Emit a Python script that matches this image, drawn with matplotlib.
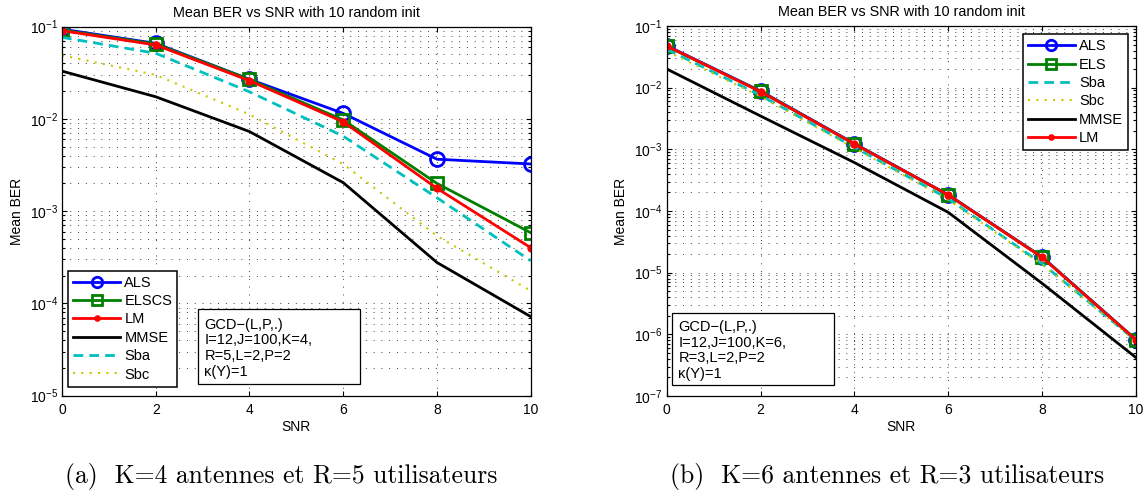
"""Mean BER vs SNR for the two antenna/user configurations (GCD-(L,P,.))."""
import matplotlib
matplotlib.use('Agg')
import matplotlib.pyplot as plt
from matplotlib.patches import Rectangle
from matplotlib.ticker import LogLocator, NullFormatter, LogFormatterMathtext
import numpy as np

plt.rcParams['font.family'] = ['Liberation Sans', 'DejaVu Sans']
plt.rcParams['font.size'] = 10

# ── Data ──
snr = [0, 2, 4, 6, 8, 10]

# (a) K=4, R=5
als_a = [0.094, 0.066, 0.0269, 0.0115, 0.00366, 0.00325]
elscs_a = [0.092, 0.0650, 0.0268, 0.00975, 0.0020, 0.000585]
lm_a = [0.0905, 0.0634, 0.0260, 0.0093, 0.00177, 0.000402]
mmse_a = [0.033, 0.0174, 0.0073, 0.00204, 0.000278, 7.2e-5]
sba_a = [0.0767, 0.0515, 0.0197, 0.0065, 0.0014, 0.00029]
sbc_a = [0.049, 0.030, 0.0112, 0.00324, 0.00054, 0.000137]

# (b) K=6, R=3
als_b = [0.048, 0.0088, 0.00124, 0.000183, 1.8e-5, 8.2e-7]
els_b = [0.047, 0.0087, 0.00122, 0.000181, 1.78e-5, 8.1e-7]
sba_b = [0.042, 0.0075, 0.00108, 0.000158, 1.4e-5, 7.9e-7]
sbc_b = [0.039, 0.0072, 0.00104, 0.000152, 1.35e-5, 7.8e-7]
mmse_b = [0.0201, 0.00347, 0.00061, 9.5e-5, 6.7e-6, 4.2e-7]
lm_b = [0.0474, 0.0086, 0.00122, 0.000182, 1.77e-5, 8.1e-7]

# ── Styles ──
BLUE = '#0000FF'
GREEN = '#008000'
RED = '#FF0000'
CYAN = '#00BFBF'
YELLOW = '#C8C800'
GRID = '0.25'

STYLE = {
    'ALS': dict(color=BLUE, marker='o', ms=10, mfc='none', mew=2, lw=2),
    'ELS': dict(color=GREEN, marker='s', ms=9, mfc='none', mew=2, lw=2),
    'LM': dict(color=RED, marker='o', ms=5, lw=2),
    'MMSE': dict(color='k', lw=2),
    'Sba': dict(color=CYAN, ls=(0, (3.5, 2.2)), lw=2),
    'Sbc': dict(color=YELLOW, ls=(0, (1, 3)), lw=1.5),
}


def panel(ax, series, ymin, box_text, box, legend_loc, legend_anchor):
    """One BER panel: curves, MATLAB-like grid, legend and parameter box."""
    for label, kind, values in series:
        ax.plot(snr, values, label=label, **STYLE[kind])

    ax.set_yscale('log')
    ax.set_xlim(0, 10)
    ax.set_ylim(ymin, 1e-1)
    ax.set_xticks(np.arange(0, 11, 2))
    ax.yaxis.set_major_locator(LogLocator(base=10, numticks=20))
    ax.yaxis.set_major_formatter(LogFormatterMathtext())
    ax.yaxis.set_minor_locator(LogLocator(base=10, subs=np.arange(2, 10), numticks=20))
    ax.yaxis.set_minor_formatter(NullFormatter())
    ax.tick_params(which='both', direction='in', top=True, right=True, width=0.8)
    ax.tick_params(which='major', length=3.5)
    ax.tick_params(which='minor', length=2)
    ax.tick_params(axis='x', pad=5)
    ax.tick_params(axis='y', pad=3)
    for s in ax.spines.values():
        s.set_linewidth(0.9)

    dots = (0, (1, 7))
    ax.grid(True, which='major', axis='both', color=GRID, ls=dots, lw=0.7)
    ax.grid(True, which='minor', axis='y', color=GRID, ls=dots, lw=0.7)
    ax.set_axisbelow(True)

    ax.set_title('Mean BER vs SNR with 10 random init', fontsize=10.4, pad=7)
    ax.set_xlabel('SNR')
    ax.set_ylabel('Mean BER')
    ax.xaxis.set_label_coords(0.5, -0.065)
    ax.yaxis.set_label_coords(-0.082, 0.5)

    leg = ax.legend(loc=legend_loc, bbox_to_anchor=legend_anchor, borderaxespad=0,
                    fancybox=False, framealpha=1, edgecolor='k', handlelength=3.2,
                    labelspacing=0.3, markerscale=0.75, fontsize=10.5,
                    borderpad=0.35, handletextpad=0.3)
    leg.get_frame().set_linewidth(1.1)
    leg.set_zorder(5)

    x0, y0, x1, y1 = box
    ax.add_patch(Rectangle((x0, y0), x1 - x0, y1 - y0, transform=ax.transAxes,
                           facecolor='white', edgecolor='k', lw=0.9, zorder=5))
    ax.text(x0 + 0.014, (y0 + y1) / 2 - 0.004, box_text, transform=ax.transAxes,
            ha='left', va='center', fontsize=10.5, linespacing=1.15, zorder=6)


fig = plt.figure(figsize=(11.45, 4.96), dpi=100, facecolor='white')
ax_a = fig.add_axes([62 / 1145, 1 - 395.7 / 496, 468.7 / 1145, 369 / 496])
ax_b = fig.add_axes([666.7 / 1145, 1 - 396 / 496, 469.3 / 1145, 370 / 496])

panel(ax_a,
      [('ALS', 'ALS', als_a), ('ELSCS', 'ELS', elscs_a), ('LM', 'LM', lm_a),
       ('MMSE', 'MMSE', mmse_a), ('Sba', 'Sba', sba_a), ('Sbc', 'Sbc', sbc_a)],
      1e-5, 'GCD\u2212(L,P,.)\nI=12,J=100,K=4,\nR=5,L=2,P=2\n\u03ba(Y)=1',
      (0.2895, 0.0317, 0.636, 0.234), 'lower left', (0.0134, 0.0244))

panel(ax_b,
      [('ALS', 'ALS', als_b), ('ELS', 'ELS', els_b), ('Sba', 'Sba', sba_b),
       ('Sbc', 'Sbc', sbc_b), ('MMSE', 'MMSE', mmse_b), ('LM', 'LM', lm_b)],
      1e-7, 'GCD\u2212(L,P,.)\nI=12,J=100,K=6,\nR=3,L=2,P=2\n\u03ba(Y)=1',
      (0.0107, 0.0297, 0.3565, 0.225), 'upper right', (0.983, 0.978))

# sub-figure captions
fig.text(0.2459, 0.04, '(a)  K=4 antennes et R=5 utilisateurs', family='cmr10',
         fontsize=18.5, ha='center', va='center')
fig.text(0.7745, 0.04, '(b)  K=6 antennes et R=3 utilisateurs', family='cmr10',
         fontsize=18.5, ha='center', va='center')

fig.savefig('out.png', dpi=100, facecolor='white')
plt.close()
